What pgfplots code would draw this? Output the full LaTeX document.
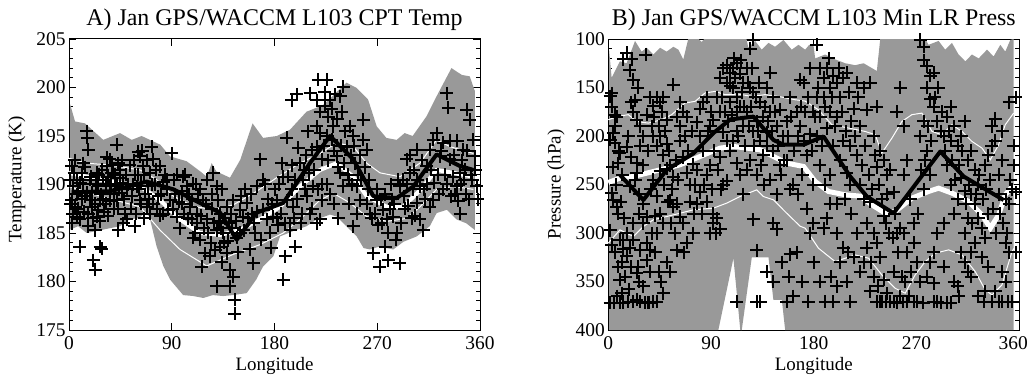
\documentclass[border=0pt]{standalone}
\usepackage{fontspec}
\setmainfont{Liberation Serif}
\usepackage{pgfplots}
\pgfplotsset{compat=1.18}
\definecolor{envgray}{gray}{0.6}
\pgfplotsset{
  idlbase/.style={
    scale only axis, width=411bp, height=291bp,
    xmin=0, xmax=360, xtick={0,90,180,270,360},
    axis line style={line width=1bp},
    every tick/.style={line width=0.8bp, black},
    major tick length=7bp, minor tick length=4bp,
    tick align=inside,
    minor y tick num=4,
    clip=false,
    every tick label/.append style={font=\fontsize{19.5}{19.5}\selectfont},
    xticklabel style={yshift=-3bp},
    /pgf/number format/assume math mode=true,
    xlabel={Longitude},
    xlabel style={at={(axis description cs:0.5,0)}, anchor=base, yshift=-40bp, font=\fontsize{19}{19}\selectfont},
    ylabel style={anchor=center, font=\fontsize{19}{19}\selectfont},
    title style={at={(axis description cs:0.5,1)}, anchor=base, yshift=7.5bp, font=\fontsize{24}{24}\selectfont},
  },
  crosses/.style={only marks, mark=+, mark size=6.5bp, line width=2bp, black},
}
\begin{document}
\begin{tikzpicture}
% ---------------- Panel A ----------------
\begin{axis}[idlbase, at={(69bp,45bp)}, anchor=south west,
  ymin=175, ymax=205, ytick={175,180,...,205},
  ylabel={Temperature (K)},
  ylabel style={at={(axis description cs:-0.127,0.518)}},
  title={A) Jan GPS/WACCM L103 CPT Temp}]
\addplot[fill=envgray, draw=none] table {
0.9 198.3
5.3 196.5
14 196.3
30 194.6
44.7 195.3
55 194.6
63.6 195.0
80 194.1
88.5 192.9
103 192.4
115 191.35
120.6 190.8
125 192.2
129 191.35
141 190.7
150 192.55
160.8 196.3
170 194.8
182 195.0
193.6 195.65
208 197.5
222.7 198.2
243 200.5
252 199.95
262 198.75
269.5 196.0
278 194.8
287 194.6
294 195.3
301 195.0
313 197.0
322 199.1
335 202.0
344 201.3
351 201.15
355.6 199.6
355.6 185.3
348 186.0
339.5 186.4
331 187.4
322 187.05
316 185.7
304.6 184.65
293 184.1
284 183.3
272 183.6
263.6 183.3
258 183.45
252 184.65
243 185.7
234.5 186.7
228.6 186.9
217 186.4
208 185.7
196.5 185.2
184.8 184.65
179 182.6
170 181.55
164 180.2
155.6 178.8
143.6 178.6
135 178.5
126 178.6
117.6 178.3
109 178.5
100 178.6
88.5 180.2
82.6 181.6
76.8 183.6
71 186.4
66.5 187.2
62 186.55
53 186.4
44.7 185.7
36 185.5
24 185.2
15.5 185.0
8 185.7
0.9 185.34
};
% upper thin white
\addplot[white, line width=1bp] table {
0 192.7
15.5 192.2
35.9 192.0
62.2 191.5
76.8 190.5
91.4 188.8
108.9 187.75
126.4 187.4
143.9 187.9
164.4 189.3
181.9 190.7
202.3 192.2
219.9 193.2
234.5 194.3
249.1 193.9
260.7 192.2
272.4 191.2
289.9 190.8
307.4 192.2
322.0 194.6
333.7 193.9
354.2 193.2
};
% mean thick white
\addplot[white, line width=4bp] table {
0 191.2
27.2 190.5
62.2 189.8
79.7 188.4
97.2 186.4
114.7 185.0
132.3 184.8
149.8 185.3
167.3 186.4
184.8 187.7
202.3 189.8
219.9 191.5
234.5 192.2
249.1 190.8
260.7 188.8
278.2 187.7
292.8 187.7
307.4 189.4
322.0 191.5
336.6 191.2
354.2 190.8
};
% lower thin white
\addplot[white, line width=1bp] table {
0 189.8
27.2 188.8
62.2 187.7
79.7 185.3
97.2 183.3
120.6 181.6
143.9 182.8
167.3 183.8
187.7 185.0
202.3 186.4
219.9 188.4
231.5 189.1
246.1 188.1
260.7 186.7
278.2 186.2
295.8 186.5
307.4 187.7
322.0 189.5
336.6 189.8
354.2 189.5
};
\addplot[crosses] table {
2.3 191.9
4.4 191.2
6.7 190.5
3.8 189.8
8.2 189.1
2.3 188.4
5.3 187.7
3.2 187.0
6.7 186.7
9.6 186.4
11.1 191.2
12.6 192.2
15.5 195.5
16.1 194.8
16.9 193.6
18.4 188.4
19.9 187.7
16.9 185.7
9.6 183.6
22.8 185.3
24.2 191.2
25.7 189.8
27.2 188.4
25.7 187.4
24.2 186.7
21.3 182.2
22.8 181.2
27.2 183.6
28.6 183.4
30.1 190.5
33.0 191.9
35.9 189.8
37.4 191.2
35.9 192.6
38.8 191.2
40.3 189.8
41.8 188.4
43.2 192.2
44.7 190.7
46.1 189.1
49.1 187.0
50.5 186.4
47.6 186.0
41.8 194.1
43.2 185.3
57.8 185.7
60.7 193.4
62.2 192.9
65.1 191.9
59.3 189.8
62.2 188.4
68.0 187.7
69.5 189.8
70.9 191.2
72.4 193.9
73.9 192.6
79.7 191.9
82.6 190.3
85.5 189.5
88.5 188.4
89.9 193.2
87.0 187.4
82.6 187.0
94.3 186.7
98.7 189.3
103.1 189.8
106.0 187.7
108.9 190.1
107.4 186.4
110.4 185.0
114.7 184.3
111.8 187.0
117.7 188.4
120.6 186.4
122.0 185.0
116.2 181.5
119.1 182.9
123.5 182.6
126.4 191.2
129.3 189.8
130.8 188.4
132.3 187.0
129.3 185.3
132.3 183.6
129.3 179.5
135.2 185.0
138.1 182.9
141.0 181.2
143.9 180.5
141.0 179.5
145.4 178.1
145.4 176.7
138.1 187.7
143.9 188.4
149.8 187.4
149.8 185.0
152.7 186.7
155.6 188.1
158.5 183.3
161.5 181.9
164.4 189.8
167.3 192.6
170.2 187.4
173.1 186.4
176.1 185.0
179.0 186.7
181.9 188.4
186.3 192.2
187.7 190.8
189.2 182.6
190.7 188.4
187.7 180.2
193.6 186.0
195.0 189.5
196.5 187.7
198.0 183.6
193.6 185.3
190.7 194.8
195.0 198.7
199.4 199.3
202.3 192.2
205.3 190.5
208.2 188.8
211.1 187.0
214.0 189.8
212.6 193.6
216.9 193.9
219.9 195.3
221.3 192.6
219.9 186.4
216.9 186.0
221.3 188.4
211.1 199.4
218.4 200.8
225.7 200.8
216.9 198.7
224.2 198.1
227.2 197.0
228.6 198.7
231.5 196.0
230.1 194.6
234.5 192.9
237.4 191.2
240.3 189.8
240.3 200.1
237.4 199.1
243.2 193.9
246.1 196.0
249.1 195.0
250.5 192.2
252.0 189.8
254.9 188.4
257.8 196.7
260.7 193.6
257.8 194.6
252.0 187.0
249.1 185.7
266.6 182.9
272.4 181.5
276.8 183.6
279.7 182.2
289.9 181.9
269.5 188.4
275.3 187.4
278.2 186.4
284.1 186.7
287.0 185.0
289.9 189.8
292.8 190.5
295.8 192.6
298.7 191.2
301.6 189.5
304.5 188.1
307.4 186.4
310.4 185.3
307.4 189.8
313.3 191.9
316.2 193.6
319.1 194.6
322.0 195.3
325.0 192.9
327.9 194.3
330.8 199.4
332.3 197.9
333.7 192.6
336.6 190.8
339.6 189.8
342.5 191.2
345.4 193.6
348.3 197.7
351.2 196.7
354.2 194.6
355.6 192.9
357.1 189.8
342.5 187.0
316.2 187.7
319.1 188.4
304.5 193.6
12 190.0
14 188.8
18 190.5
28 189.0
32 188.0
34 190.8
39 187.5
45 191.5
52 190.0
55 188.8
58 191.0
63 190.2
66 186.5
70 188.5
75 190.0
78 188.8
80 186.8
92 190.5
96 188.2
100 190.8
104 186.5
113 189.0
125 187.5
134 189.5
136 184.0
140 186.0
147 184.5
154 189.5
160 187.0
162 186.0
172 190.0
180 189.5
183 185.8
198 190.5
204 187.0
208 193.0
226 190.0
232 188.0
236 186.5
245 190.5
262 189.5
264 187.0
283 188.5
294 187.5
300 186.5
312 188.5
328 189.5
335 188.8
348 189.0
352 191.0
346 190.5
1 190.5
1.5 188
3 186
5 192.5
7 189
8 187.5
10 190.2
11 188.5
13 187.2
14 191.8
16 189.2
17 187
19 190.8
20 189.2
21 186.5
23 188
24 190
26 191
27 186.2
29 191.5
30 188.5
31 187.2
32 190
33 192.8
34 186.8
36 188.3
37 190
38 192
39 189
40 191
42 190
43 187.5
44 189.5
46 192.5
47 190.2
48 188.5
50 191
51 189.5
53 192
54 187.5
56 190
57 192.5
59 187
60 191
61 189.5
63 188
64 193.5
66 191
67 189
68 192.5
71 187
73 190
74 188
76 191.5
77 187.5
81 189
84 191
86 190.5
91 187.5
93 189
95 191
97 185.5
99 188
101 187
102 191
105 189
108 188.5
109 184.5
111 190
112 186
115 189.5
116 186.8
118 185.5
120 188
121 190.5
124 184
125 189
127 186
128 183.2
131 186.2
133 185.5
134 182
137 186.5
139 184.2
142 187
143 185.5
146 186.2
148 183
151 188.8
153 185.3
157 186.5
159 189
163 185
165 187.2
168 184.3
170 190.5
174 188.5
177 183.5
178 188
182 186.5
184 190
186 187
189 186
192 190.8
195 192
197 186.5
200 188.5
201 193.8
203 186
206 191.5
207 189.5
209 195.5
210 191.2
213 187.5
215 191.5
217 196
218 189.5
220 197.5
222 190
223 194
224 199.5
226 195
227 192.5
229 189
230 197.8
232 193.5
233 199.3
235 196.8
236 191.8
238 194
239 197.5
241 192.2
242 195.5
244 191
245 188
247 193
248 190
250 194
253 191
255 193
256 190.5
259 191.8
261 188
263 190.5
265 186.5
268 187
270 189.5
271 185.8
273 188.5
274 186
277 189
279 185
281 187.5
282 190
285 188
286 184.3
288 190.5
291 186
293 188.8
296 190
297 187.8
299 193
302 191.5
303 186.8
305 190.5
309 192.5
311 189.5
314 190
317 191.5
320 190.2
323 191
324 189
326 193.5
329 191
331 190
334 194.5
337 193
338 189
340 194.5
341 188.3
343 190
344 192.5
347 191.5
349 193.5
350 188.5
353 190.5
356 191.5
358 188.5
};
\addplot[black, line width=4bp, line join=round] table {
2.3 189.2
35.9 189.3
68.0 190.3
91.4 189.5
114.7 188.1
132.3 187.1
146.9 184.3
164.4 187.1
187.7 188.1
211.0 192.2
228.6 195.0
249.0 192.6
266.6 188.8
287.0 188.6
301.6 189.8
322.0 193.1
342.5 191.9
354.2 191.5
};
\end{axis}
% ---------------- Panel B ----------------
\begin{axis}[idlbase, at={(608.3bp,45bp)}, anchor=south west,
  ymin=100, ymax=400, ytick={100,150,...,400}, y dir=reverse,
  xticklabels={0,90,180,270,\hspace*{-12bp}360},
  ylabel={Pressure (hPa)},
  ylabel style={at={(axis description cs:-0.127,0.5)}},
  title={B) Jan GPS/WACCM L103 Min LR Press}]
\addplot[fill=envgray, draw=none] table {
0.8 112
2.9 140
10.2 123
16 125
23.4 102
29.2 113
33.6 109
39.4 116
45.3 109
51.1 113
57 108
61.4 111
65.7 121
70 100
79 100
81.8 103
84 100
121 100
122.7 109
128.6 102
134.4 111
140.3 104
146.1 108
153.4 101
160.7 111
166.6 106
172.4 111
176 106
179.7 106
181.2 120
190 116
198.7 121
207.5 125
216.2 127
223.6 125
230.9 130
235.2 133
238.2 100
277.6 100
280.5 106
289.3 102
295.1 111
301 104
306.8 116
312.7 123
318.5 116
324.4 120
331.7 111
337.5 118
343.4 106
347.7 113
352.1 101
355 100
355 400
154.9 400
152 369
144.6 369
140.3 325
125.7 325
116.9 400
115.6 400
109.6 326
96.4 400
0.8 400
};
% upper thin white
\addplot[white, line width=1bp] table {
0 183.2
8.8 179.8
17.5 178
24.8 185
35 186.7
46.8 183.2
55.5 178
67.2 166
76 164.3
84.7 155.7
93.5 154
102.3 157.4
114 156.8
125.7 159.2
137.3 157.4
149 159.2
163.6 162.6
172.4 164
184.1 173
195.8 188.4
210.4 191.8
225 195.3
233.8 198.7
239.6 217.6
248.4 202.2
257.2 185
265.9 178
274.7 176.4
283.5 195.3
292.2 198.7
301 188.4
309.8 195.3
318.5 205.6
327.3 212.5
334.6 224.5
341.9 209
347.7 188.4
355 176.4
};
% mean thick white
\addplot[white, line width=5bp] table {
0 247.9
10.2 243.4
22 241.7
33.6 238.3
45.3 234.9
62.8 229.7
80.4 221.1
97.9 212.5
109.6 210.8
121.3 212.5
133 214.2
144.6 221.1
156.3 228
171 231.4
181.2 246.9
192.9 257.2
207.5 260.6
220.6 262
230.9 271
242.5 279.6
251.3 277.8
265.9 264.1
280.5 257.2
289.3 253.8
301 258.9
315.6 267.5
327.3 281.3
334.6 295
341.9 281.3
347.7 260.6
355 250.3
};
% lower thin white
\addplot[white, line width=1bp] table {
0 310.5
10.2 296.8
22 303.6
30.7 293.3
39.4 286.4
51.1 283
62.8 279.6
74.5 276.1
92 274.4
103.7 269.2
115.4 262.4
130 255.5
135.9 262.4
144.6 265.8
156.3 279.6
168 293
172.4 295
184.1 315.7
198.7 329.5
216.2 322.6
228 326
239.6 343.2
251.3 357
260 362.1
268.8 343.2
277.6 329.5
286.4 320.8
298.1 317.4
309.8 322.6
321.4 339.8
330.2 358.7
336.1 363.9
344.8 353.5
353.6 319.1
355.5 315.7
};
\addplot[crosses] table {
1.5 159
2.9 156
5.8 178
7.3 180
4.4 197
1.5 204
5.8 207
10.2 218
8.8 228
2.9 259
4.4 266
1.5 297
7.3 273
8.8 280
10.2 307
8.8 335
10.2 348
11.7 362
1.5 372
13.2 307
13.2 317
16.1 324
13.2 121
16.1 114
19 132
20.5 121
21.9 142
23.4 163
24.8 183
17.5 200
16.1 211
24.8 238
19 252
23.4 245
16.1 300
21.9 307
26.3 335
24.8 341
24.8 369
17.5 371
21.9 371
33 116
27.8 190
30.7 200
33.6 178
30.7 270
33.6 283
30.7 290
33.6 310
36.5 318
33.6 328
27.8 371
39.4 371
36.5 340
30.7 355
42.4 371
36.5 160
39.4 169
42.4 160
45.3 165
48.2 160
51.1 183
39.4 200
42.4 210
45.3 200
48.2 220
51.1 208
45.3 236
51.1 234
54.1 230
57 242
39.4 245
42.4 262
45.3 280
48.2 290
42.4 300
54.1 266
57 273
60 270
62.8 283
65.7 290
59.9 318
54.1 340
48.2 362
51.1 330
57 147
62.8 190
65.7 175
68.7 180
62.8 205
65.7 222
68.7 238
71.6 250
74.5 229
71.6 268
74.5 300
68.7 310
66 320
77.4 186
80.4 172
83.3 165
86.2 160
89.1 190
92 184
80.4 200
83.3 215
86.2 240
89.1 230
77.4 235
80.4 258
86.2 268
92 280
95 285
89.1 300
97.9 296
92 290
95 160
97.9 140
100.8 130
97.9 175
100.8 196
103.7 205
97.9 222
103.7 246
100.8 250
103.7 127
106.7 135
109.6 130
112.5 125
115.4 136
109.6 150
112.5 160
115.4 170
106.7 165
118.4 145
121.3 130
124.2 150
121.3 175
118.4 190
112.5 195
109.6 205
106.7 215
112.5 228
115.4 240
121.3 235
124.2 110
127.1 155
127.1 195
130 185
133 165
133 205
124.2 225
130 240
118.4 260
127.1 286
130 318
112.5 371
130 371
133 371
135.9 180
135.9 220
138.8 196
127.1 101
138.8 150
141.7 135
144.6 160
141.7 175
147.6 190
144.6 215
141.7 245
147.6 260
144.6 290
147.6 296
138.8 340
144.6 350
150.5 173
153.4 200
156.3 185
159.3 160
156.3 225
159.3 255
162.2 250
159.3 322
162.2 365
156.3 371
165.1 175
168 142
171 145
168 190
171 205
173.9 220
176.8 130
179.7 175
176.8 198
179.7 250
173.9 275
176.8 300
179.7 290
182.6 106
185.6 130
182.6 160
182.6 200
188.5 140
191.4 130
185.6 180
188.5 160
191.4 192
194.3 150
197.2 138
200.2 145
194.3 175
200.2 180
203.1 160
206 140
209 135
197.2 210
203.1 225
206 205
209 238
212 210
194.3 270
191.4 285
188.5 295
200.2 300
206 315
212 250
217.7 220
220.6 190
214.8 172
217.7 145
223.6 150
226.5 173
220.6 250
223.6 265
226.5 290
214.8 325
209 350
200.2 355
197.2 371
212 371
220.6 340
226.5 315
229.4 145
235 170
232.3 200
238.2 215
235 232
241.1 225
244 240
246.9 235
249.9 258
244 260
241.1 282
229.4 268
232.3 300
235.2 310
238.2 325
232.3 345
229.4 360
241.1 348
244 362
235.2 371
238.2 371
246.9 371
252.8 372
255.7 365
249.9 340
252.8 300
255.7 295
258.6 300
261.5 320
255.7 150
252.8 175
258.6 190
261.5 225
258.6 240
264.5 265
267.4 290
270.3 330
267.4 371
273.2 350
273.2 101
276.2 108
276.2 122
279.1 128
282 138
285 135
279.1 150
282 162
285 170
276.2 185
273.2 200
279.1 215
282 240
276.2 255
288 185
291 195
294 200
297 180
300 170
303 190
300 205
306 210
297 230
300 250
306 265
303 280
294 290
288 300
285 320
282 330
279 345
285 352
276 372
291 372
297 372
300 372
303 350
294 335
309 200
312 185
309 243
312 257
315 225
318 215
321 235
324 250
318 260
321 270
315 285
324 285
327 295
321 310
330 305
333 280
330 230
333 220
336 210
339 205
342 240
345 225
342 260
348 265
351 270
336 190
339 182
345 195
351 165
357 160
357 258
354 255
348 310
351 320
345 340
348 350
339 360
336 371
342 371
354 371
357 320
330 360
327 325
318 320
315 340
312 300
309 320
306 355
3 170
6 190
9 215
12 240
4 232
7 250
11 268
14 285
3 312
6 320
12 330
15 345
18 358
8 365
5 372
10 372
13 372
20 165
22 175
26 150
28 210
20 222
25 228
27 260
22 290
27 280
19 315
28 318
20 335
27 350
32 372
35 372
30 230
35 215
38 190
40 180
37 255
41 282
38 300
41 320
44 340
46 350
36 372
44 190
47 175
50 195
53 215
49 250
52 268
56 255
55 290
58 300
60 180
59 225
61 245
63 165
67 200
70 215
73 195
76 250
78 270
75 280
82 280
84 250
87 195
90 175
93 215
96 235
99 255
91 255
94 300
100 160
102 175
104 145
105 185
107 148
108 178
110 120
111 140
113 175
114 200
116 122
117 155
119 170
120 210
122 145
123 190
125 170
126 130
128 210
129 160
131 195
132 145
134 230
136 250
137 170
139 210
140 185
143 195
146 175
149 210
151 240
154 225
157 200
160 180
163 215
166 200
169 170
172 175
175 160
178 215
181 180
184 150
187 210
190 170
193 120
196 160
199 190
202 130
205 175
208 195
211 155
213 185
216 200
219 160
222 230
225 210
228 240
231 255
234 220
237 250
240 265
243 290
246 300
249 305
251 280
254 320
257 345
260 350
263 365
265 340
268 310
271 280
274 235
277 225
280 190
283 205
286 160
289 150
292 175
295 215
298 195
301 225
304 245
307 230
310 215
313 270
316 250
319 290
322 260
325 240
328 265
331 255
334 245
337 275
340 300
343 280
346 290
349 300
352 245
355 230
355 210
203 330
210 320
218 300
224 330
230 330
236 355
240 371
243 371
250 371
258 371
262 371
270 371
285 371
288 371
307 365
312 330
318 345
324 365
329 371
333 335
345 371
350 371
190 250
185 230
194 240
200 270
207 265
213 280
170 240
166 260
150 230
152 330
158 345
165 320
170 350
175 371
180 330
185 350
190 371
195 345
};
\addplot[black, line width=4bp, line join=round] table {
10.2 240
30.7 266
51.1 235
74.5 218
92 197
106.7 183
127.1 180
144.6 204
153.4 209
171 209
188.5 200.5
211.9 241.7
226.5 262.4
249.9 279.6
290.8 216
311.2 241.7
346.3 266
};
\end{axis}
\pgfresetboundingbox
\useasboundingbox (0,0) rectangle (1032bp,375bp);
\end{tikzpicture}
\end{document}
